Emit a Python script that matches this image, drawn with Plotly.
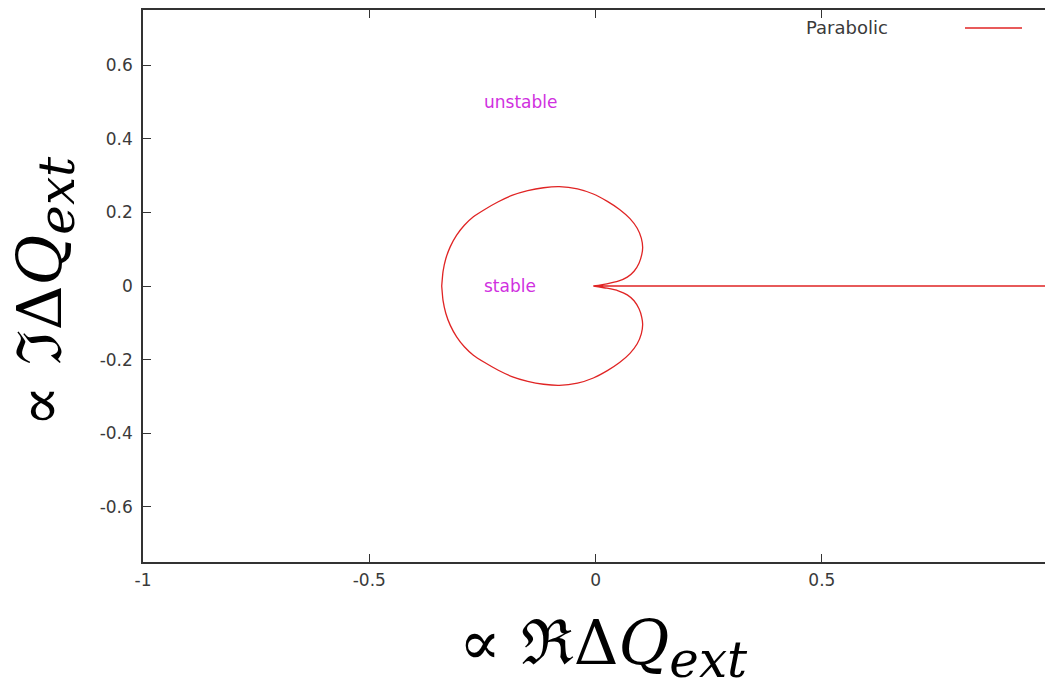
import plotly.graph_objects as go

# Stability boundary (Parabolic): spike along the real axis, then the upper loop, then the lower loop
spike_x = [1.0, 0.5, -0.005]
spike_y = [0.0, 0.0, 0.0]

upper_x = [-0.005, 0.025, 0.050, 0.070, 0.085, 0.096, 0.102, 0.104, 0.101, 0.092, 0.076, 0.053,
           0.026, -0.005, -0.040, -0.080, -0.115, -0.150, -0.185, -0.215, -0.245, -0.270,
           -0.290, -0.307, -0.321, -0.331, -0.337, -0.340]
upper_y = [0.0, 0.006, 0.013, 0.024, 0.040, 0.062, 0.085, 0.105, 0.130, 0.157, 0.183, 0.208,
           0.230, 0.250, 0.264, 0.270, 0.267, 0.259, 0.246, 0.229, 0.208, 0.188,
           0.165, 0.138, 0.107, 0.074, 0.040, 0.0]

lower_x = [-0.340, -0.337, -0.331, -0.321, -0.307, -0.290, -0.270, -0.245, -0.215, -0.185,
           -0.150, -0.115, -0.080, -0.040, -0.005, 0.026, 0.053, 0.076, 0.092, 0.101, 0.104,
           0.102, 0.096, 0.085, 0.070, 0.050, 0.025, -0.005]
lower_y = [0.0, -0.040, -0.074, -0.107, -0.138, -0.165, -0.188, -0.208, -0.229, -0.246,
           -0.259, -0.267, -0.270, -0.264, -0.250, -0.230, -0.208, -0.183, -0.157, -0.130, -0.105,
           -0.085, -0.062, -0.040, -0.024, -0.013, -0.006, 0.0]

series_name = "Parabolic"
x_ticks = [-1, -0.5, 0, 0.5, 1]
x_tick_labels = ["-1", "-0.5", "0", "0.5", "1"]
y_ticks = [-0.6, -0.4, -0.2, 0, 0.2, 0.4, 0.6]
y_tick_labels = ["-0.6", "-0.4", "-0.2", "0", "0.2", "0.4", "0.6"]

region_labels = ["unstable", "stable"]
region_x = [-0.25, -0.25]
region_y = [0.5, 0.0]

line_color = "#e02424"
text_color = "#3a3a3a"
axis_color = "#333333"
label_color = "#d030e0"

W, H = 1045, 689
ML, MR, MT, MB = 143, 0, 10, 689 - 562
PW, PH = W - ML - MR, H - MT - MB


def px_to_paper_x(sx):
    return (sx - ML) / PW


def px_to_paper_y(sy):
    return (H - MB - sy) / PH


fig = go.Figure()
fig.add_trace(go.Scatter(
    x=spike_x + upper_x + lower_x,
    y=spike_y + upper_y + lower_y,
    mode="lines",
    name=series_name,
    line=dict(color=line_color, width=1.3, shape="spline", smoothing=0.5),
    showlegend=False,
    hoverinfo="skip",
))

tick_font = dict(family="DejaVu Sans, sans-serif", size=17, color=text_color)

fig.update_xaxes(
    range=[-1, 0.993], tickmode="array", tickvals=x_ticks, ticktext=x_tick_labels,
    ticks="inside", ticklen=8, tickcolor=axis_color, tickwidth=1,
    showline=True, linecolor=axis_color, linewidth=1.5, mirror="ticks",
    showgrid=False, zeroline=False, tickfont=tick_font, ticklabelstandoff=2,
)
fig.update_yaxes(
    range=[-0.75, 0.75], tickmode="array", tickvals=y_ticks, ticktext=y_tick_labels,
    ticks="inside", ticklen=8, tickcolor=axis_color, tickwidth=1,
    showline=True, linecolor=axis_color, linewidth=1.5, mirror=False,
    showgrid=False, zeroline=False, tickfont=tick_font, ticklabelstandoff=5,
)

annotations = []
for t, xv, yv in zip(region_labels, region_x, region_y):
    annotations.append(dict(
        x=xv, y=yv, xref="x", yref="y", text=t, showarrow=False,
        xanchor="left", yanchor="middle",
        font=dict(family="DejaVu Sans, sans-serif", size=17, color=label_color),
    ))

# legend (text then line sample, gnuplot style)
annotations.append(dict(
    x=px_to_paper_x(804), y=px_to_paper_y(27), xref="paper", yref="paper",
    text=series_name, showarrow=False, xanchor="left", yanchor="middle",
    font=dict(family="DejaVu Sans, sans-serif", size=18, color=text_color),
))

title_font = dict(family="DejaVu Serif, serif", size=62, color="#000000")
sub = "<sub><span style='font-size:50px'><i>ext</i></span></sub>"
annotations.append(dict(
    x=px_to_paper_x(603), y=px_to_paper_y(647), xref="paper", yref="paper",
    text="∝ ℜΔ<i>Q</i>" + sub, showarrow=False,
    xanchor="center", yanchor="middle", font=title_font,
))
annotations.append(dict(
    x=px_to_paper_x(44), y=px_to_paper_y(292), xref="paper", yref="paper",
    text="∝ ℑΔ<i>Q</i>" + sub, showarrow=False, textangle=-90,
    xanchor="center", yanchor="middle", font=title_font,
))

fig.update_layout(
    width=W, height=H,
    margin=dict(l=ML, r=MR, t=MT, b=MB, pad=0),
    paper_bgcolor="white", plot_bgcolor="white",
    annotations=annotations,
    shapes=[dict(
        type="line", xref="paper", yref="paper",
        x0=px_to_paper_x(965), x1=px_to_paper_x(1022),
        y0=px_to_paper_y(28), y1=px_to_paper_y(28),
        line=dict(color=line_color, width=1.3),
    )],
)

fig.write_html(
    "out.html",
    config={"displayModeBar": False},
    post_script="document.body.style.margin='0';document.body.style.overflow='hidden';",
)
